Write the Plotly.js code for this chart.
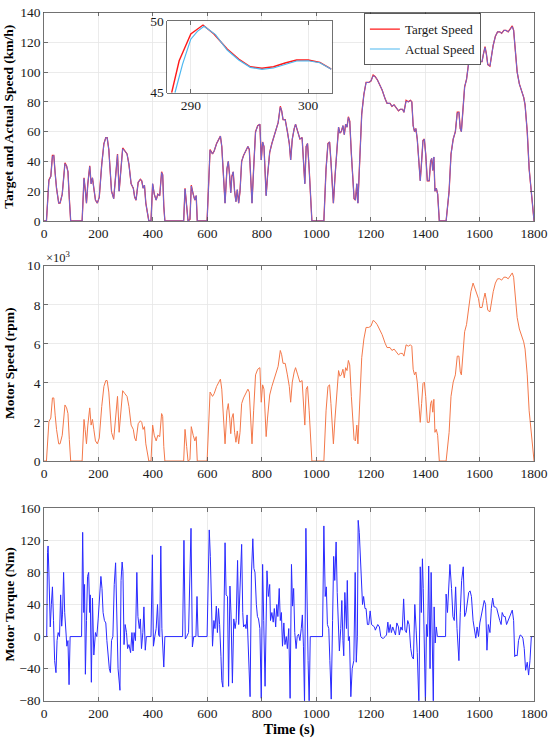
<!DOCTYPE html>
<html>
<head>
<meta charset="utf-8">
<script src="https://cdn.plot.ly/plotly-3.0.1.min.js"></script>
<style>html,body{margin:0;padding:0;background:#fff;}#chart{width:550px;height:743px;}</style>
</head>
<body>
<div id="chart"></div>
<script>
// ---- Speed (km/h) and motor speed (x10^3 rpm), sampled in time (s) ----
const speedTime = [
  0,9,18,25,31,36,41,46,54,59,67,72,77,83,88,93,98,
  140,147,151,156,161,168,173,178,183,189,196,203,212,220,227,232,238,243,248,256,263,270,276,284,289,297,305,312,320,328,333,338,346,354,359,364,369,374,380,385,393,399,405,412,418,425,432,436,440,444,
  513,518,524,529,536,541,548,554,559,563,
  599,610,619,625,634,641,648,653,660,665,672,677,682,686,690,695,700,705,710,715,720,726,733,741,749,754,759,764,770,777,785,793,798,803,808,816,821,829,837,845,852,860,868,873,878,886,894,901,906,912,919,924,932,940,948,953,958,963,968,974,979,984,
  1028,1036,1043,1049,1054,1059,1063,1069,1077,1082,1087,1092,1098,1103,1108,1113,1118,1123,1129,1134,1139,1144,1149,1153,1160,1167,1175,1183,1193,1201,1209,1216,1224,1232,1242,1253,1260,1271,1278,1286,1294,1302,1309,1317,1322,1330,1338,1346,1351,1356,1361,1366,1371,1377,1382,1387,1392,1397,1402,1408,1415,1420,1424,1428,1432,1436,1441,1446,1452,
  1477,1488,1495,1503,1511,1518,1524,1529,1533,1540,1545,1552,1560,1568,1576,1583,1588,1596,1601,1609,1614,1620,1625,1630,1638,1643,1650,1658,1666,1674,1681,1689,1697,1705,1712,1720,1725,1730,1738,1746,1754,1762,1767,1775,1782,1790,1798,1800
];
const targetSpeed = [
  0,0,27.5,30,44,44,32,22,12,12,18,30,39,37,33,15,0,
  0,29,22,12,25,37,25,29,22,14,12,16,38,52,56,56,48,35,20,15,30,45,20,40,49,47,45,38,25,22,16,14,26,28,27,22,24,12,5,0,0,25,18,14,18,17,33,31,10,0,
  0,22,10,0,1,24,18,14,17,0,
  0,48,45,47,52,55,57,50,25,12,35,40,30,19,30,33,20,13,21,12,20,40,44,47,50,48,30,12,35,60,64,65,41,53,50,17,30,46,52,57,62,66,77,74,68,68,60,52,41,55,62,65,60,55,56,40,25,50,52,35,15,0,
  0,35,52,53,40,20,12,30,55,63,59,60,64,58,65,63,70,67,45,30,15,14,25,12,40,72,85,93,93,94,98,97,95,92,88,82,79,79,77,78,76,74,75,75,73,81,80,81,80,64,60,62,55,40,27,40,54,55,45,27,27,40,42,34,43,20,22,18,0,
  0,20,45,55,60,73,73,62,60,80,90,95,108,118,124,120,116,113,107,107,112,117,112,105,104,110,118,124,127,127,126,128,128,127,129,131,128,115,100,92,88,83,78,60,35,18,0,0
];
const actualSpeed = [
  0,0,27,30,43.5,44,32,22,12,12,18,30,38.5,37,33,15,0,
  0,28.5,22,12,25,36.5,25,29,22,14,12,16,37.5,51.5,56,56,48,35,20,15,30,44.5,20,40,48.5,47,45,38,25,22,16,14,26,28,27,22,24,12,5,0,0,25,18,14,18,17,32.5,31,10,0,
  0,21.5,10,0,1,23.5,18,14,17,0,
  0,47.5,45,47,52,55,57,50,25,12,35,40,30,19,30,33,20,13,21,12,20,40,44,47,50,48,30,12,35,59.5,64,65,41,53,50,17,30,46,52,57,62,66,76.5,74,68,68,60,52,41,55,62,65,60,55,56,40,25,50,52,35,15,0,
  0,34.5,52,53,40,20,12,30,55,63,59,60,64,58,65,63,69.5,67,45,30,15,14,25,12,40,71.5,85,93,93,94,97.5,97,95,92,88,82,79,79,77,78,76,74,75,75,73,80.5,80,81,80,64,60,62,55,40,27,40,54,55,45,27,27,40,42,34,43,20,22,18,0,
  0,20,44.5,55,60,72.5,73,62,60,80,90,95,108,117.5,124,120,116,113,107,107,112,116.5,112,105,104,110,118,124,127,127,126,128,128,127,129,130.5,128,115,100,92,88,83,78,60,35,18,0,0
];
const motorSpeed = [
  0,0,2.02,2.2,3.23,3.23,2.35,1.62,0.88,0.88,1.32,2.2,2.87,2.72,2.43,1.1,0,
  0,2.13,1.62,0.88,1.84,2.72,1.84,2.13,1.62,1.03,0.88,1.18,2.79,3.82,4.12,4.12,3.53,2.57,1.47,1.1,2.2,3.31,1.47,2.94,3.6,3.45,3.31,2.79,1.84,1.62,1.18,1.03,1.91,2.06,1.98,1.62,1.76,0.88,0.37,0,0,1.84,1.32,1.03,1.32,1.25,2.43,2.28,0.74,0,
  0,1.62,0.74,0,0.07,1.76,1.32,1.03,1.25,0,
  0,3.53,3.31,3.45,3.82,4.04,4.19,3.68,1.84,0.88,2.57,2.94,2.2,1.4,2.2,2.43,1.47,0.96,1.54,0.88,1.47,2.94,3.23,3.45,3.68,3.53,2.2,0.88,2.57,4.41,4.7,4.78,3.01,3.9,3.68,1.25,2.2,3.38,3.82,4.19,4.56,4.85,5.66,5.44,5.0,5.0,4.41,3.82,3.01,4.04,4.56,4.78,4.41,4.04,4.12,2.94,1.84,3.68,3.82,2.57,1.1,0,
  0,2.57,3.82,3.9,2.94,1.47,0.88,2.2,4.04,4.63,4.34,4.41,4.7,4.26,4.78,4.63,5.15,4.92,3.31,2.2,1.1,1.03,1.84,0.88,2.94,5.29,6.25,6.84,6.84,6.91,7.2,7.13,6.98,6.76,6.47,6.03,5.81,5.81,5.66,5.73,5.59,5.44,5.51,5.51,5.37,5.95,5.88,5.95,5.88,4.7,4.41,4.56,4.04,2.94,1.98,2.94,3.97,4.04,3.31,1.98,1.98,2.94,3.09,2.5,3.16,1.47,1.62,1.32,0,
  0,1.47,3.31,4.04,4.41,5.37,5.37,4.56,4.41,5.88,6.62,6.98,7.94,8.67,9.11,8.82,8.53,8.31,7.86,7.86,8.23,8.6,8.23,7.72,7.64,8.09,8.67,9.11,9.33,9.33,9.26,9.41,9.41,9.33,9.48,9.63,9.41,8.45,7.35,6.76,6.47,6.1,5.73,4.41,2.57,1.32,0,0
];

// ---- Motor torque (Nm) ----
const torqueTime = [
  0,10,13,15,18,23,27,31,35,39,44,48,52,57,61,65,68,72,76,80,84,88,92,96,138,
  142,146,149,152,156,160,164,168,170,174,178,183,189,194,199,204,209,213,217,222,227,231,235,240,244,248,253,258,263,267,272,279,283,287,290,294,298,303,307,312,318,323,327,331,336,341,345,350,354,358,363,367,372,376,393,398,402,407,412,417,421,425,429,433,436,440,444,509,
  514,519,524,531,540,545,550,558,562,566,599,
  607,611,615,619,624,628,633,637,641,645,650,653,657,661,665,669,674,678,683,687,692,697,702,706,711,715,721,726,730,733,739,742,746,752,757,762,767,771,775,780,784,788,793,798,803,807,812,819,824,829,832,837,842,846,851,855,859,864,868,872,876,881,885,890,894,899,904,909,913,917,921,926,930,935,940,945,949,953,957,962,966,970,974,978,1023,
  1028,1033,1037,1041,1046,1050,1055,1060,1064,1068,1073,1077,1081,1085,1090,1094,1098,1101,1105,1111,1114,1118,1122,1127,1132,1138,1143,1147,1151,1154,1158,1162,1166,1170,1174,1179,1183,1188,1193,1198,1203,1209,1214,1217,1223,1226,1232,1237,1242,1247,1253,1258,1263,1267,1272,1276,1281,1286,1291,1296,1302,1305,1311,1316,1321,1326,1331,1336,1341,1347,1352,1357,1362,1367,1371,1377,1382,1386,1390,1393,1397,1401,1405,1409,1413,1418,1422,1426,1430,1433,1437,1441,1445,1475,
  1477,1482,1488,1491,1497,1502,1507,1512,1517,1524,1529,1534,1540,1545,1550,1555,1560,1565,1570,1576,1581,1586,1591,1596,1601,1606,1612,1617,1622,1627,1632,1638,1643,1648,1653,1658,1663,1668,1674,1679,1683,1689,1694,1699,1705,1710,1715,1720,1725,1729,1733,1738,1743,1749,1754,1759,1764,1769,1775,1780,1785,1790,1800
];
const motorTorque = [
  0,0,105,113,80,12,40,62,20,-30,-45,-5,5,0,52,13,28,80,30,0,-12,-5,-60,0,0,
  130,30,65,-47,20,75,80,30,52,-57,48,-23,5,0,22,58,75,60,30,20,17,-5,-22,-40,-45,-5,0,65,92,15,-40,-67,70,93,81,-10,15,5,-15,-10,-20,5,-18,5,-5,80,25,10,22,-15,5,37,-17,0,0,102,-12,0,10,40,2,0,113,10,-10,-38,0,0,
  120,-3,0,5,135,-13,0,0,50,0,0,
  133,100,40,-12,20,10,38,5,35,15,-25,-55,-63,20,117,52,50,-62,63,27,-58,22,10,20,95,15,72,115,30,12,15,10,27,-30,-75,78,122,85,80,40,25,22,10,-77,90,20,-62,82,50,65,20,30,18,35,12,40,25,60,20,30,-12,17,-10,0,-15,10,-77,90,38,60,5,-15,0,3,-5,10,27,-12,-85,135,20,-30,-85,0,0,
  138,50,62,15,10,-30,-78,20,100,70,118,55,0,-18,10,45,-5,-24,55,10,70,-5,0,-75,-40,-30,80,-32,0,145,130,100,55,40,50,35,35,15,15,32,15,13,12,8,12,15,12,0,-2,-2,0,2,18,5,15,5,12,8,2,17,12,2,12,8,47,8,5,20,15,-15,-25,-28,40,8,-20,-85,87,30,97,60,-20,-85,15,0,88,-40,80,0,-85,37,-8,12,0,0,
  53,30,70,90,60,25,20,62,10,-30,30,70,87,25,30,45,55,57,50,20,5,-2,12,0,17,25,35,45,40,-17,15,5,35,48,37,37,35,27,20,15,30,25,25,15,20,25,30,33,20,-25,-23,-24,-5,2,1,-2,-15,-42,-32,-48,-30,0,0
];

// ---- Inset: zoom of target vs actual speed ----
const insetTime = [288.37,289.01,290.0,291.04,291.97,293.1,294.08,295.07,296.06,297.04,298.03,299.01,300.0,300.99,301.97];
const insetTarget = [45.0,47.24,49.11,49.74,49.11,48.06,47.36,46.82,46.71,46.82,47.08,47.29,47.29,47.13,46.66];
const insetActualTime = [288.65,289.3,290.0,290.56,291.13,292.1,293.1,294.08,295.07,296.06,297.04,298.03,299.01,300.0,300.99,301.97];
const insetActual = [45.0,47.0,48.75,49.3,49.65,49.07,47.99,47.29,46.78,46.64,46.73,46.99,47.22,47.24,47.1,46.64];

const xTicks = [0,200,400,600,800,1000,1200,1400,1600,1800];

const FONT = 'Liberation Serif, Times New Roman, serif';
const tickFont = {family: FONT, size: 13.5, color: '#1a1a1a'};
const titleFont = {family: FONT, size: 13.5, color: '#000'};

function axBase(extra) {
  return Object.assign({
    showline: true, linecolor: '#4d4d4d', linewidth: 0.8, mirror: 'ticks',
    ticks: 'inside', ticklen: 4, tickcolor: '#4d4d4d', tickwidth: 0.8,
    showgrid: true, gridcolor: '#e6e6e6', gridwidth: 0.8,
    zeroline: false, tickfont: tickFont, fixedrange: true
  }, extra);
}

const traces = [
  {x: speedTime, y: targetSpeed, xaxis: 'x', yaxis: 'y', type: 'scatter', mode: 'lines',
   line: {color: '#ff2020', width: 1.3}, showlegend: false, name: 'Target Speed'},
  {x: speedTime, y: actualSpeed, xaxis: 'x', yaxis: 'y', type: 'scatter', mode: 'lines',
   line: {color: '#6a6ad8', width: 1.0}, showlegend: false, name: 'Actual Speed'},
  {x: speedTime, y: motorSpeed, xaxis: 'x2', yaxis: 'y2', type: 'scatter', mode: 'lines',
   line: {color: '#f3784a', width: 1.0}, showlegend: false, name: 'Motor Speed'},
  {x: torqueTime, y: motorTorque, xaxis: 'x3', yaxis: 'y3', type: 'scatter', mode: 'lines',
   line: {color: '#2a2aff', width: 1.0}, showlegend: false, name: 'Motor Torque'},
  {x: insetTime, y: insetTarget, xaxis: 'x4', yaxis: 'y4', type: 'scatter', mode: 'lines',
   line: {color: '#ff1a1a', width: 1.4}, showlegend: true, name: 'Target Speed'},
  {x: insetActualTime, y: insetActual, xaxis: 'x4', yaxis: 'y4', type: 'scatter', mode: 'lines',
   line: {color: '#4db8f0', width: 1.2}, showlegend: true, name: 'Actual Speed'}
];

const layout = {
  width: 550, height: 743,
  margin: {l: 0, r: 0, t: 0, b: 0},
  paper_bgcolor: '#fff', plot_bgcolor: '#fff',
  font: {family: FONT},
  xaxis: axBase({domain: [0.080, 0.971], range: [0, 1800], tickvals: xTicks, anchor: 'y'}),
  yaxis: axBase({domain: [0.7026, 0.9832], range: [0, 140], dtick: 20, tick0: 0, anchor: 'x',
    title: {text: '<b>Target and Actual Speed (km/h)</b>', font: titleFont, standoff: 3}}),
  xaxis2: axBase({domain: [0.080, 0.971], range: [0, 1800], tickvals: xTicks, anchor: 'y2'}),
  yaxis2: axBase({domain: [0.3795, 0.6424], range: [0, 10], dtick: 2, tick0: 0, anchor: 'x2',
    title: {text: '<b>Motor Speed (rpm)</b>', font: titleFont, standoff: 9}}),
  xaxis3: axBase({domain: [0.080, 0.971], range: [0, 1800], tickvals: xTicks, anchor: 'y3',
    title: {text: '<b>Time (s)</b>', font: {family: FONT, size: 14.5, color: '#000'}, standoff: 2}}),
  yaxis3: axBase({domain: [0.0569, 0.3159], range: [-80, 160], dtick: 40, tick0: -80, anchor: 'x3',
    title: {text: '<b>Motor Torque (Nm)</b>', font: titleFont, standoff: 1}}),
  xaxis4: axBase({domain: [0.3042, 0.6031], range: [288, 302], tickvals: [290, 300], anchor: 'y4'}),
  yaxis4: axBase({domain: [0.8752, 0.9713], range: [45, 50], tickvals: [45, 50], anchor: 'x4'}),
  shapes: [
    {type: 'rect', xref: 'x4', yref: 'y4', x0: 288, x1: 302, y0: 45, y1: 50,
     fillcolor: '#fff', line: {width: 0}, layer: 'below'}
  ],
  annotations: [
    {xref: 'paper', yref: 'paper', x: 0.080, y: 0.6535, xanchor: 'left', yanchor: 'middle',
     text: '×10<sup>3</sup>', showarrow: false, font: {family: FONT, size: 12.5, color: '#1a1a1a'}}
  ],
  legend: {x: 0.662, y: 0.982, xanchor: 'left', yanchor: 'top', bgcolor: '#fff',
    bordercolor: '#333', borderwidth: 0.8, font: {family: FONT, size: 13, color: '#1a1a1a'},
    itemwidth: 30, tracegroupgap: 0}
};

Plotly.newPlot('chart', traces, layout, {staticPlot: true, displayModeBar: false});
</script>
</body>
</html>
